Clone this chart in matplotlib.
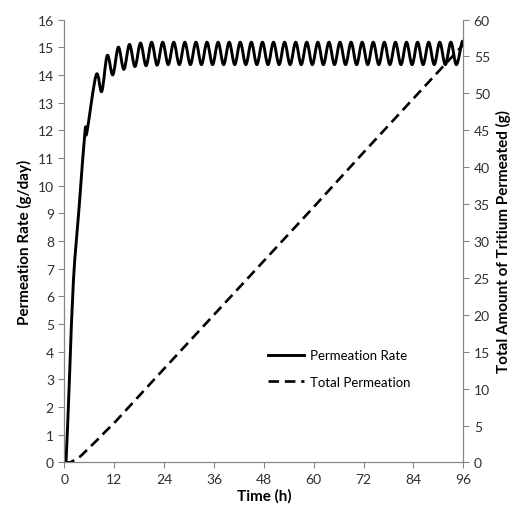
import matplotlib
matplotlib.use('Agg')
import matplotlib.pyplot as plt
from matplotlib.path import Path
from matplotlib.patches import PathPatch
from matplotlib.lines import Line2D

# Permeation rate (g/day): start-up ramp, then peaks/troughs
rate_time = [0, 0.4, 1.3, 2.2, 3.6, 5.0, 5.4, 7.67, 9.0, 10.33, 11.67,
             13.0, 14.33, 15.67, 17.0, 18.33, 19.67, 21.0, 22.33, 23.67, 25.0,
             26.33, 27.67, 29.0, 30.33, 31.67, 33.0, 34.33, 35.67, 37.0, 38.33,
             39.67, 41.0, 42.33, 43.67, 45.0, 46.33, 47.67, 49.0, 50.33, 51.67,
             53.0, 54.33, 55.67, 57.0, 58.33, 59.67, 61.0, 62.33, 63.67, 65.0,
             66.33, 67.67, 69.0, 70.33, 71.67, 73.0, 74.33, 75.67, 77.0, 78.33,
             79.67, 81.0, 82.33, 83.67, 85.0, 86.33, 87.67, 89.0, 90.33, 91.67,
             93.0, 94.33, 95.67, 96.0]
rate_value = [0, 0.0, 3.3, 6.6, 9.3, 12.0, 11.9, 14.0, 13.4, 14.7, 14.0,
              15.0, 14.2, 15.1, 14.3, 15.15, 14.33, 15.18, 14.35, 15.18, 14.37,
              15.18, 14.37, 15.18, 14.37, 15.18, 14.37, 15.18, 14.37, 15.18, 14.37,
              15.18, 14.37, 15.18, 14.37, 15.18, 14.37, 15.18, 14.37, 15.18, 14.37,
              15.18, 14.37, 15.18, 14.37, 15.18, 14.37, 15.18, 14.37, 15.18, 14.37,
              15.18, 14.37, 15.18, 14.37, 15.18, 14.37, 15.18, 14.37, 15.18, 14.37,
              15.18, 14.37, 15.18, 14.37, 15.18, 14.37, 15.18, 14.37, 15.18, 14.37,
              15.18, 14.37, 15.18, 15.1]

# Total amount permeated (g)
total_time = [0, 1.5, 2, 3, 4, 6, 8, 10, 12, 24, 36, 48, 60, 72, 84, 96]
total_value = [0, 0.02, 0.2, 0.45, 0.9, 2.0, 3.1, 4.25, 5.35, 12.7, 20.0, 27.3,
               34.6, 42.0, 49.3, 56.6]

x_ticks = [0, 12, 24, 36, 48, 60, 72, 84, 96]


def smooth_path(xs, ys):
    # Excel-style "smoothed line": cubic Bezier between the data points
    verts = [(xs[0], ys[0])]
    codes = [Path.MOVETO]
    n = len(xs)
    for i in range(n - 1):
        p0 = max(i - 1, 0)
        p3 = min(i + 2, n - 1)
        c1 = (xs[i] + (xs[i + 1] - xs[p0]) / 6, ys[i] + (ys[i + 1] - ys[p0]) / 6)
        c2 = (xs[i + 1] - (xs[p3] - xs[i]) / 6, ys[i + 1] - (ys[p3] - ys[i]) / 6)
        verts += [c1, c2, (xs[i + 1], ys[i + 1])]
        codes += [Path.CURVE4] * 3
    return Path(verts, codes)


plt.rcParams['font.family'] = ['Lato', 'DejaVu Sans']
spine_color = '#868686'
text_color = '#303030'

fig = plt.figure(figsize=(5.2, 5.1), dpi=100)
ax = fig.add_axes([0.1237, 0.0912, 0.7673, 0.8686])
ax2 = ax.twinx()

ax.add_patch(PathPatch(smooth_path(rate_time, rate_value), fill=False,
                       edgecolor='black', lw=2.1, joinstyle='round'))
l1 = Line2D([], [], color='black', lw=2.1, label='Permeation Rate')
l2, = ax2.plot(total_time, total_value, color='black', lw=1.9,
               dashes=(4, 2.2), label='Total Permeation')

ax.set_xlim(0, 96)
ax.set_ylim(0, 16)
ax2.set_ylim(0, 60)
ax.set_xticks(x_ticks)
ax.set_yticks(range(0, 17))
ax2.set_yticks(range(0, 61, 5))

for a in (ax, ax2):
    a.spines['top'].set_visible(False)
    for s in ('left', 'right', 'bottom'):
        a.spines[s].set_color(spine_color)
    a.tick_params(colors=spine_color, labelcolor=text_color, length=4,
                  labelsize=10)

ax.set_xlabel('Time (h)', fontsize=11, fontweight='bold', labelpad=2)
ax.set_ylabel('Permeation Rate (g/day)', fontsize=11, fontweight='bold')
ax2.set_ylabel('Total Amount of Tritium Permeated (g)', fontsize=11,
               fontweight='bold')

ax2.legend(handles=[l1, l2], loc='center left', frameon=False,
           bbox_to_anchor=(0.497, 0.212), borderaxespad=0,
           handlelength=2.7, labelspacing=1.1, fontsize=9.5,
           handletextpad=0.5)

fig.savefig('out.png', dpi=100)
